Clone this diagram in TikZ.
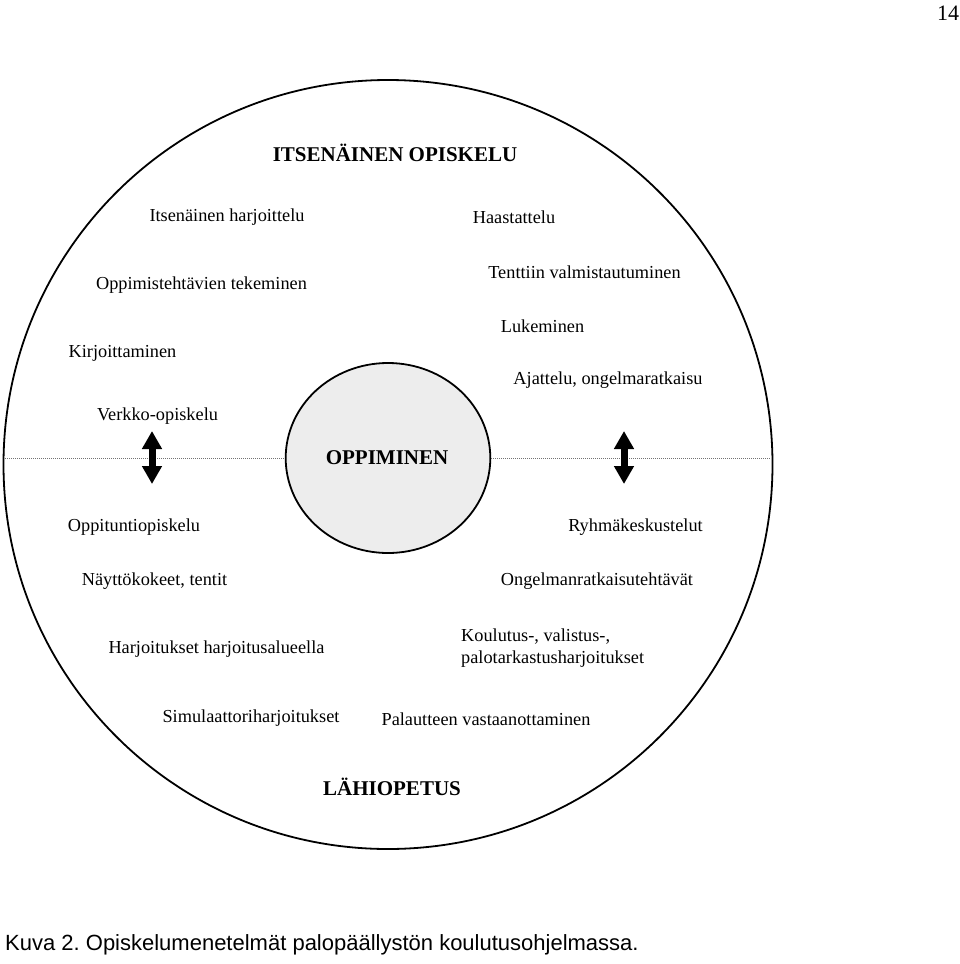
\documentclass[tikz,border=0pt]{standalone}
\usepackage{fontspec}
\setmainfont{Liberation Serif}
\newfontfamily\capfont{Liberation Sans}
\usetikzlibrary{arrows.meta,shapes.geometric}
\frenchspacing
\begin{document}
\begin{tikzpicture}[x=1pt,y=-1pt,
  lbl/.style={inner sep=0pt, font=\fontsize{18.3}{21}\selectfont},
  ttl/.style={inner sep=0pt, font=\fontsize{21}{24}\selectfont\bfseries},
  ring/.style={draw=black, line width=1.8pt},
  dots/.style={draw=black!55, line width=1pt, dash pattern=on 1pt off 1pt},
  dblarrow/.style={line width=7pt, {Triangle[width=19pt,length=18pt]}-{Triangle[width=19pt,length=18pt]}}]
\useasboundingbox (0,0) rectangle (960,964);
% outer circle
\draw[ring] (388,464.5) circle [radius=384.5];
% dotted dividing line
\coordinate (dl) at (5,458);
\coordinate (dr) at (771,458);
\draw[dots] (dl) -- (dr);
% inner ellipse
\node[ring, ellipse, fill=black!7, minimum width=204.6pt, minimum height=190pt, inner sep=0pt] (core) at (388,458) {};
\node[ttl] (opp) at (387,458) {OPPIMINEN};
% double arrows
\coordinate (la1) at (152,431);
\coordinate (la2) at (152,484);
\coordinate (ra1) at (624,431);
\coordinate (ra2) at (624,484);
\draw[dblarrow] (la1) -- (la2);
\draw[dblarrow] (ra1) -- (ra2);
% titles
\node[ttl] (its) at (395,153) {ITSENÄINEN OPISKELU};
\node[ttl] (lahi) at (392,787) {LÄHIOPETUS};
% upper left
\node[lbl] (a1) at (227,217) {Itsenäinen harjoittelu};
\node[lbl] (a2) at (201.5,285) {Oppimistehtävien tekeminen};
\node[lbl] (a3) at (122.5,353) {Kirjoittaminen};
\node[lbl] (a4) at (157.5,416) {Verkko-opiskelu};
% upper right
\node[lbl] (b1) at (514,217) {Haastattelu};
\node[lbl] (b2) at (584.5,272) {Tenttiin valmistautuminen};
\node[lbl] (b3) at (542.5,326) {Lukeminen};
\node[lbl] (b4) at (608,380) {Ajattelu, ongelmaratkaisu};
% lower left
\node[lbl] (c1) at (134,527) {Oppituntiopiskelu};
\node[lbl] (c2) at (154.5,581) {Näyttökokeet, tentit};
\node[lbl] (c3) at (216.5,649) {Harjoitukset harjoitusalueella};
\node[lbl] (c4) at (251,718) {Simulaattoriharjoitukset};
% lower right
\node[lbl] (d1) at (635.5,527) {Ryhmäkeskustelut};
\node[lbl] (d2) at (597,581) {Ongelmanratkaisutehtävät};
\node[lbl, align=left, anchor=west, font=\fontsize{18.3}{22}\selectfont] (d3) at (461,648) {Koulutus-, valistus-,\\palotarkastusharjoitukset};
\node[lbl] (d4) at (486,719) {Palautteen vastaanottaminen};
% page number and caption
\node[inner sep=0pt, font=\fontsize{22}{26}\selectfont] (pg) at (948,13) {14};
\node[inner sep=0pt, anchor=west, font=\capfont\fontsize{22}{26}\selectfont] (cap) at (5,945) {Kuva 2. Opiskelumenetelmät palopäällystön koulutusohjelmassa.};
\end{tikzpicture}
\end{document}
